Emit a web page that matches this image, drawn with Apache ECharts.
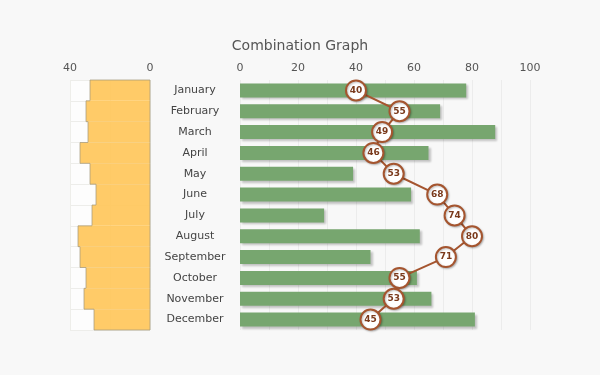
<!DOCTYPE html>
<html>
<head>
<meta charset="utf-8">
<script src="https://cdn.jsdelivr.net/npm/echarts@6/dist/echarts.min.js"></script>
<style>
  html, body { margin: 0; padding: 0; background: #f8f8f8; }
  #main { width: 600px; height: 375px; }
</style>
</head>
<body>
<div id="main"></div>
<script>
// 数据
var months = ['January', 'February', 'March', 'April', 'May', 'June', 'July', 'August', 'September', 'October', 'November', 'December'];
var leftValues = [30, 32, 31, 35, 30, 27, 29, 36, 35, 32, 33, 28];
var barValues = [78, 69, 88, 65, 39, 59, 29, 62, 45, 61, 66, 81];
var lineValues = [40, 55, 49, 46, 53, 68, 74, 80, 71, 55, 53, 45];

var font = 'DejaVu Sans';
var brown = '#a5552f';
var outline = 'rgba(165, 155, 125, 0.75)';

// 左侧阶梯面积：每个月一个整带宽矩形 + 外轮廓
function renderStep(params, api) {
    var i = params.dataIndex;
    var p = api.coord([api.value(0), i]);
    var o = api.coord([0, i]);
    var h = api.size([0, 1])[1];
    var top = p[1] - h / 2, bot = p[1] + h / 2;
    var prevX = i === 0 ? o[0] : api.coord([leftValues[i - 1], i])[0];
    var pts = [[prevX, top], [p[0], top], [p[0], bot]];
    if (i === leftValues.length - 1) pts.push([o[0], bot]);
    return {
        type: 'group',
        children: [{
            type: 'rect',
            shape: { x: p[0], y: top, width: o[0] - p[0], height: h },
            style: { fill: 'rgba(255, 197, 88, 0.9)' }
        }, {
            type: 'polyline',
            shape: { points: pts },
            style: { stroke: outline, lineWidth: 1, fill: null }
        }, {
            type: 'line',
            shape: { x1: o[0], y1: top, x2: o[0], y2: bot },
            style: { stroke: outline, lineWidth: 1 }
        }]
    };
}

var option = {
    backgroundColor: '#f8f8f8',
    animation: false,
    title: {
        text: 'Combination Graph',
        left: 'center',
        top: 34,
        textStyle: { fontFamily: font, fontSize: 14, fontWeight: 'normal', color: '#555' }
    },
    grid: [
        // 左侧面积图
        { left: 70, width: 80, top: 80, height: 250, show: true, backgroundColor: '#fdfdfd', borderWidth: 0 },
        // 右侧柱状+折线
        { left: 240, width: 290, top: 80, height: 250 }
    ],
    xAxis: [{
        gridIndex: 0,
        type: 'value',
        inverse: true,
        min: 0,
        max: 40,
        interval: 20,
        position: 'top',
        axisLine: { show: false },
        axisTick: { show: false },
        axisLabel: {
            fontFamily: font, fontSize: 11, color: '#555', margin: 6,
            formatter: function (v) { return v === 20 ? '' : v; }
        },
        splitLine: { lineStyle: { color: '#eeeeea' } }
    }, {
        gridIndex: 1,
        type: 'value',
        min: 0,
        max: 100,
        interval: 20,
        position: 'top',
        axisLine: { show: false },
        axisTick: { show: false },
        axisLabel: { fontFamily: font, fontSize: 11, color: '#555', margin: 6 },
        splitLine: { lineStyle: { color: '#ececec' } },
        minorTick: { show: false, splitNumber: 2 },
        minorSplitLine: { show: true, lineStyle: { color: '#ececec' } }
    }],
    yAxis: [{
        gridIndex: 0,
        type: 'category',
        inverse: true,
        data: months,
        axisLine: { show: false },
        axisTick: { show: false },
        axisLabel: { show: false },
        splitLine: { show: true, lineStyle: { color: '#ededea' } }
    }, {
        gridIndex: 1,
        type: 'category',
        inverse: true,
        data: months,
        axisLine: { show: false },
        axisTick: { show: false },
        axisLabel: { fontFamily: font, fontSize: 11, color: '#444', align: 'center', margin: 45 },
        splitLine: { show: false }
    }],
    series: [{
        type: 'custom',
        xAxisIndex: 0,
        yAxisIndex: 0,
        data: leftValues.map(function (v, i) { return [v, i]; }),
        encode: { x: 0, y: 1 },
        renderItem: renderStep,
        z: 1
    }, {
        type: 'bar',
        xAxisIndex: 1,
        yAxisIndex: 1,
        data: barValues,
        barWidth: 14,
        itemStyle: {
            color: '#77a66f',
            shadowColor: 'rgba(0,0,0,0.22)',
            shadowBlur: 2,
            shadowOffsetX: 2,
            shadowOffsetY: 2
        }
    }, {
        type: 'line',
        xAxisIndex: 1,
        yAxisIndex: 1,
        data: lineValues,
        symbol: 'circle',
        symbolSize: 20,
        lineStyle: { color: brown, width: 2 },
        itemStyle: {
            color: '#ffffff',
            borderColor: brown,
            borderWidth: 2,
            shadowColor: 'rgba(0,0,0,0.25)',
            shadowBlur: 2,
            shadowOffsetX: 1,
            shadowOffsetY: 1
        },
        label: {
            show: true,
            position: 'inside',
            fontFamily: font,
            fontSize: 9,
            fontWeight: 'bold',
            color: '#7a3a1c'
        },
        z: 5
    }]
};

var chart = echarts.init(document.getElementById('main'));
chart.setOption(option);
</script>
</body>
</html>
